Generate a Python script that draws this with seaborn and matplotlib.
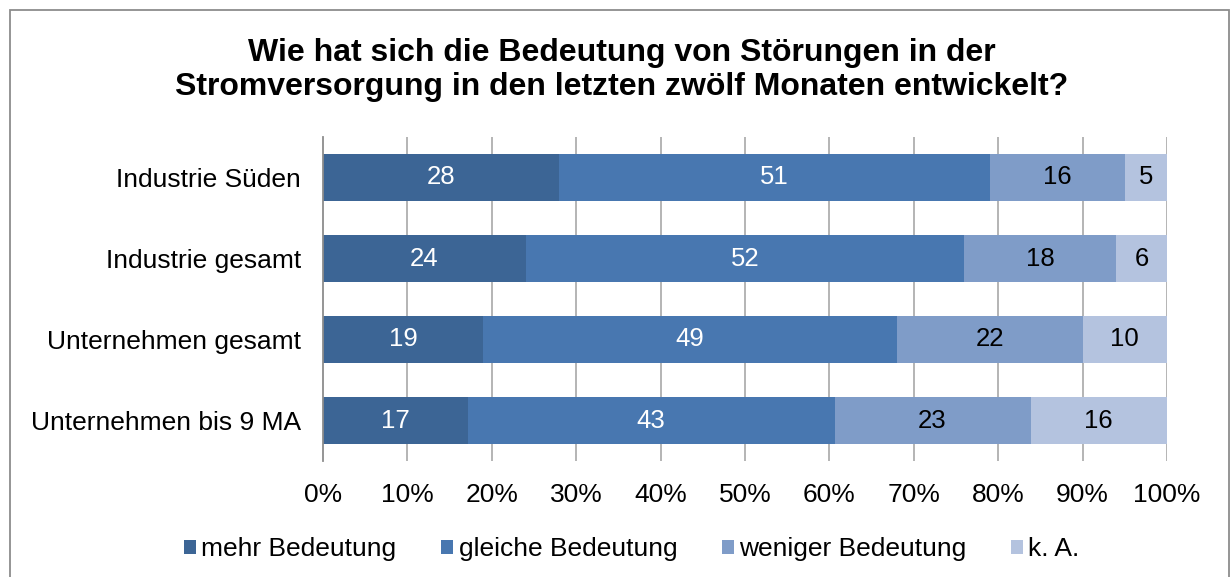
import matplotlib
matplotlib.use("Agg")
import matplotlib.pyplot as plt
import seaborn as sns
import numpy as np
import pandas as pd
from matplotlib.patches import Rectangle, Patch

categories = ["Industrie Süden", "Industrie gesamt", "Unternehmen gesamt", "Unternehmen bis 9 MA"]
series_names = ["mehr Bedeutung", "gleiche Bedeutung", "weniger Bedeutung", "k. A."]
mehr = [28, 24, 19, 17]
gleiche = [51, 52, 49, 43]
weniger = [16, 18, 22, 23]
ka = [5, 6, 10, 16]
x_ticks = [0, 10, 20, 30, 40, 50, 60, 70, 80, 90, 100]
title = "Wie hat sich die Bedeutung von Störungen in der\nStromversorgung in den letzten zwölf Monaten entwickelt?"

colors = ["#3C6595", "#4877B0", "#7F9CC8", "#B4C3DF"]
text_colors = ["white", "white", "black", "black"]

sns.set_theme(style="white")
plt.rcParams["font.family"] = ["Liberation Sans", "DejaVu Sans"]
plt.rcParams["text.color"] = "black"

vals = np.array([mehr, gleiche, weniger, ka], dtype=float)
pct = vals / vals.sum(axis=0) * 100.0
cum = np.cumsum(pct, axis=0)

fig = plt.figure(figsize=(12.31, 5.77), dpi=100)
ax = fig.add_axes([323 / 1231, 1 - 461 / 577, (1167 - 323) / 1231, (461 - 137) / 577])

for i in range(len(series_names) - 1, -1, -1):
    df = pd.DataFrame({"cat": categories, "v": cum[i]})
    sns.barplot(data=df, x="v", y="cat", orient="h", color=colors[i], saturation=1,
                width=0.57, ax=ax, linewidth=0, zorder=2)

for i in range(len(series_names)):
    start = cum[i] - pct[i]
    for j, cat in enumerate(categories):
        ax.text(start[j] + pct[i][j] / 2, j, str(int(vals[i][j])), ha="center", va="center",
                color=text_colors[i], fontsize=18.5, zorder=3)

ax.set_xlim(0, 100)
ax.set_ylim(3.5, -0.5)
ax.set_xticks(x_ticks)
ax.set_xticklabels([f"{t}%" for t in x_ticks])
ax.set_xlabel("")
ax.set_ylabel("")
ax.set_axisbelow(True)
ax.grid(False)
for t in x_ticks[1:]:
    ax.axvline(t, color="#A0A0A0", lw=1.1, zorder=0)
for s in ["top", "right", "bottom"]:
    ax.spines[s].set_visible(False)
ax.spines["left"].set_color("#8C8C8C")
ax.spines["left"].set_linewidth(1.3)
ax.tick_params(axis="x", length=0, pad=16, labelsize=19, colors="black")
ax.tick_params(axis="y", length=0, pad=16, labelsize=19, colors="black")

fig.text(622 / 1231, 1 - 70 / 577, title, ha="center", va="center", fontsize=23,
         fontweight="bold", linespacing=1.15, color="black")

handles = [Patch(facecolor=c, edgecolor="none") for c in colors]
fig.legend(handles, series_names, loc="center", bbox_to_anchor=(632 / 1231, 1 - 549 / 577),
           ncol=4, frameon=False, fontsize=19, handlelength=0.45, handleheight=0.45,
           handletextpad=0.2, columnspacing=1.7)

fig.patches.append(Rectangle((10 / 1231, -0.05), (1229 - 10) / 1231, 1.05 - 10 / 577,
                             transform=fig.transFigure, fill=False, edgecolor="#8C8C8C",
                             lw=1.3, zorder=10))

fig.savefig("out.png", dpi=100)
